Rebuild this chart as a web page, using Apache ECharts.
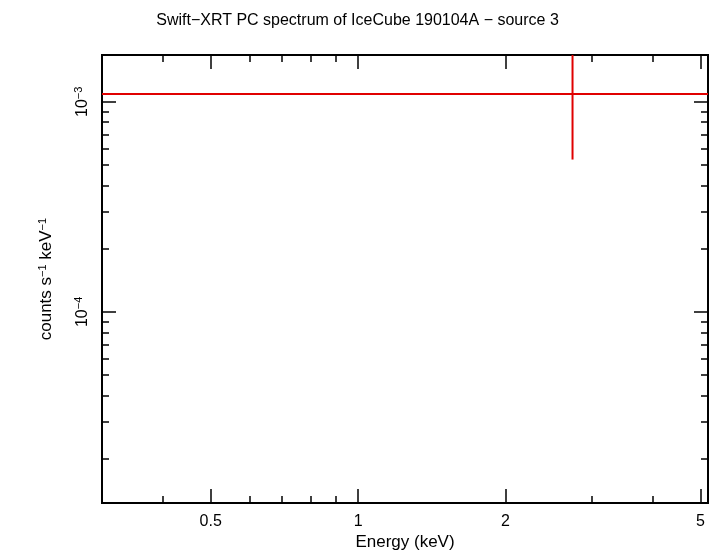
<!DOCTYPE html>
<html><head><meta charset="utf-8">
<script src="https://cdn.jsdelivr.net/npm/echarts@6/dist/echarts.min.js"></script>
<style>html,body{margin:0;padding:0;background:#fff}#c{width:715px;height:556px}</style>
</head><body><div id="c"></div>
<script>
// Spectrum data (keV, counts s^-1 keV^-1)
const binLo = [0.3];
const binHi = [10];
const binCenter = [2.74];
const rate = [1.09e-3];
const rateLo = [5.31e-4];
const rateHi = [2.3e-3];
// Axis settings
const xRange = [0.3, 5.18];
const yRange = [1.23e-5, 1.67e-3];
const xMajor = [0.5, 1, 2, 5];
const xMinor = [0.3,0.4,0.6,0.7,0.8,0.9,3,4];
const yMajor = [1e-4, 1e-3];
const yMinor = [2e-5,3e-5,4e-5,5e-5,6e-5,7e-5,8e-5,9e-5,2e-4,3e-4,4e-4,5e-4,6e-4,7e-4,8e-4,9e-4];

const L = Math.log10;
const lx = a => a.map(L);
const font = 'Liberation Sans, Arial, sans-serif';

function xAx(pos, vals, len, labels) {
  return {type:'value', position:pos, min:L(xRange[0]), max:L(xRange[1]),
    axisLine:{show:true, onZero:false, lineStyle:{color:'#000', width:2}}, splitLine:{show:false},
    axisTick:{show:true, inside:true, length:len, customValues:lx(vals), lineStyle:{color:'#000', width:1.5}},
    axisLabel:{show:labels, customValues:lx(vals), color:'#000', fontSize:16, fontFamily:font, margin:10,
      formatter:v=>String(+Math.pow(10,v).toPrecision(3))},
    name: labels ? 'Energy (keV)' : '', nameLocation:'middle', nameGap:30,
    nameTextStyle:{color:'#000', fontSize:17, fontFamily:font}};
}
function yAx(pos, vals, len, labels) {
  return {type:'value', position:pos, min:L(yRange[0]), max:L(yRange[1]),
    axisLine:{show:true, onZero:false, lineStyle:{color:'#000', width:2}}, splitLine:{show:false},
    axisTick:{show:true, inside:true, length:len, customValues:lx(vals), lineStyle:{color:'#000', width:1.5}},
    axisLabel:{show:labels, customValues:lx(vals), rotate:90, margin:10, color:'#000', fontSize:16, fontFamily:font,
      formatter:v=>'10{s|'+(Math.round(v)<0?'−':'')+Math.abs(Math.round(v))+'}',
      rich:{s:{fontSize:11, verticalAlign:'top', padding:[0,0,8,0], fontFamily:font, color:'#000'}}},
    name: labels ? 'counts s{s|−1} keV{s|−1}' : '', nameLocation:'middle', nameGap:46,
    nameTextStyle:{color:'#000', fontSize:17, fontFamily:font, rich:{s:{fontSize:11, padding:[0,0,8,0], fontFamily:font, color:'#000'}}}};
}

const chart = echarts.init(document.getElementById('c'));
chart.setOption({
  animation:false,
  title:{text:'Swift−XRT PC spectrum of IceCube 190104A − source 3', left:'center', top:8,
    textStyle:{fontSize:16, fontWeight:'normal', color:'#000', fontFamily:font}},
  grid:{left:102, right:7, top:55, bottom:51},
  xAxis:[xAx('bottom', xMajor, 14, true), xAx('bottom', xMinor, 7, false), xAx('top', xMajor, 14, false), xAx('top', xMinor, 7, false)],
  yAxis:[yAx('left', yMajor, 14, true), yAx('left', yMinor, 7, false), yAx('right', yMajor, 14, false), yAx('right', yMinor, 7, false)],
  series:[{
    type:'custom', clip:true,
    data: binCenter.map((c,i)=>[L(c), L(rate[i]), L(binLo[i]), L(binHi[i]), L(rateLo[i]), L(rateHi[i])]),
    renderItem:(params, api)=>{
      const a = api.coord([api.value(2), api.value(1)]);
      const b = api.coord([api.value(3), api.value(1)]);
      const c = api.coord([api.value(0), api.value(4)]);
      const d = api.coord([api.value(0), api.value(5)]);
      const st = {stroke:'#e00000', lineWidth:2};
      return {type:'group', children:[
        {type:'line', shape:{x1:a[0],y1:a[1],x2:b[0],y2:b[1]}, style:st},
        {type:'line', shape:{x1:c[0],y1:c[1],x2:d[0],y2:d[1]}, style:st}]};
    }
  }]
});
</script></body></html>
